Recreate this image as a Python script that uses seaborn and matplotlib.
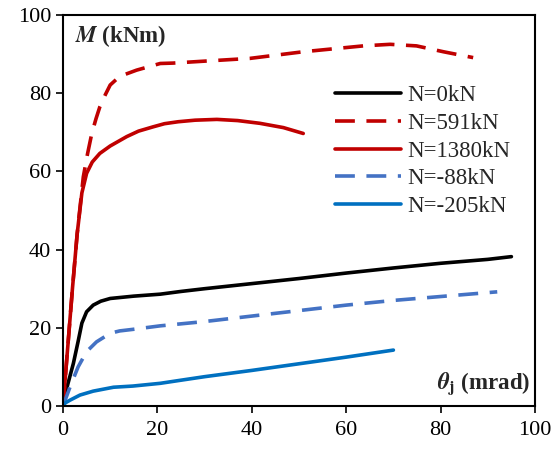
import numpy as np
import pandas as pd
import matplotlib
matplotlib.use("Agg")
import matplotlib.pyplot as plt
import seaborn as sns

# Moment–rotation curves for each axial load level
theta_n0 = [0, 1, 2.2, 3.2, 4.0, 5.0, 6.4, 8, 10, 15, 20.6, 25, 30, 40, 50, 60, 70, 80, 90, 95]
m_n0 = [0, 5.5, 10.9, 16.5, 21.2, 24.1, 25.8, 26.8, 27.5, 28.1, 28.6, 29.3, 30.0, 31.3, 32.6, 34.0, 35.3, 36.5, 37.5, 38.2]

theta_n591 = [0, 1, 2, 3, 4.3, 5.2, 6.1, 7.0, 7.8, 9.0, 10, 12, 15.6, 20.6, 23.3, 30, 39.6, 50.9, 63.6, 69.3, 74.9, 80.6, 86.9]
m_n591 = [0, 15, 30, 44, 58.6, 64.5, 69.7, 73.5, 76.5, 79.7, 82.1, 84.3, 85.9, 87.6, 87.7, 88.2, 88.9, 90.6, 92.1, 92.5, 92.1, 90.6, 89.1]

theta_n1380 = [0, 1, 2, 3, 4, 5.0, 6.2, 7.8, 10, 13.5, 16, 19.1, 21.5, 24.4, 28, 32.6, 37, 41.7, 46.7, 50.9]
m_n1380 = [0, 15, 30, 44, 54.5, 59.5, 62.4, 64.6, 66.5, 68.9, 70.3, 71.4, 72.2, 72.7, 73.1, 73.3, 73.0, 72.3, 71.2, 69.7]

theta_nm88 = [0, 1.5, 3.2, 5.0, 7.1, 10, 12, 14.8, 20.6, 30, 40, 50, 60, 70, 80, 92]
m_nm88 = [0, 4.9, 10.0, 13.9, 16.4, 18.6, 19.2, 19.6, 20.5, 21.6, 23.0, 24.4, 25.8, 27.0, 28.0, 29.2]

theta_nm205 = [0, 0.5, 1.5, 3.6, 6.4, 10.7, 14.8, 20.6, 25, 30, 40, 50, 60, 70]
m_nm205 = [0, 0.8, 1.5, 2.8, 3.8, 4.8, 5.1, 5.8, 6.6, 7.5, 9.1, 10.8, 12.5, 14.3]

labels = ["N=0kN", "N=591kN", "N=1380kN", "N=-88kN", "N=-205kN"]
colors = ["#000000", "#C00000", "#C00000", "#4472C4", "#0070C0"]
dashed = [False, True, False, True, False]

frames = []
for lab, th, m in zip(labels,
                      [theta_n0, theta_n591, theta_n1380, theta_nm88, theta_nm205],
                      [m_n0, m_n591, m_n1380, m_nm88, m_nm205]):
    frames.append(pd.DataFrame({"theta": th, "M": m, "series": lab}))
df = pd.concat(frames, ignore_index=True)

sns.set_style("ticks")
plt.rcParams["font.family"] = ["Liberation Serif", "DejaVu Serif"]
plt.rcParams["mathtext.fontset"] = "stix"

fig = plt.figure(figsize=(5.54, 4.5), dpi=100)
ax = fig.add_axes([63 / 554, 1 - 406 / 450, (535 - 63) / 554, (406 - 15) / 450])

for lab, col, dsh in zip(labels, colors, dashed):
    sub = df[df["series"] == lab]
    sns.lineplot(data=sub, x="theta", y="M", ax=ax, color=col, lw=2.6,
                 sort=False, estimator=None, label=lab)
    line = ax.lines[-1]
    line.set_solid_joinstyle("round")
    line.set_dash_joinstyle("round")
    if dsh:
        line.set_dashes([5.5, 3.2])

ax.set_xlim(0, 100)
ax.set_ylim(0, 100)
ax.set_xticks(np.arange(0, 101, 20))
ax.set_yticks(np.arange(0, 101, 20))
ax.set_xlabel("")
ax.set_ylabel("")
ax.tick_params(axis="both", direction="out", length=5, width=1.2, labelsize=16, colors="black")
ax.tick_params(axis="x", pad=6)
for s in ax.spines.values():
    s.set_linewidth(1.5)
    s.set_color("black")

leg = ax.legend(loc="upper left", bbox_to_anchor=(0.576, 0.82), frameon=False,
                fontsize=16.5, handlelength=2.9, handletextpad=0.25,
                labelspacing=0.29, borderaxespad=0, borderpad=0)

ax.text(0.025, 0.945, r"$\boldsymbol{M}$ (kNm)", transform=ax.transAxes,
        fontsize=16.5, fontweight="bold", va="center", ha="left")
ax.text(0.99, 0.058, r"$\boldsymbol{\theta}_{\mathbf{j}}$ (mrad)", transform=ax.transAxes,
        fontsize=16.5, fontweight="bold", va="center", ha="right")

fig.savefig("out.png", dpi=100)
